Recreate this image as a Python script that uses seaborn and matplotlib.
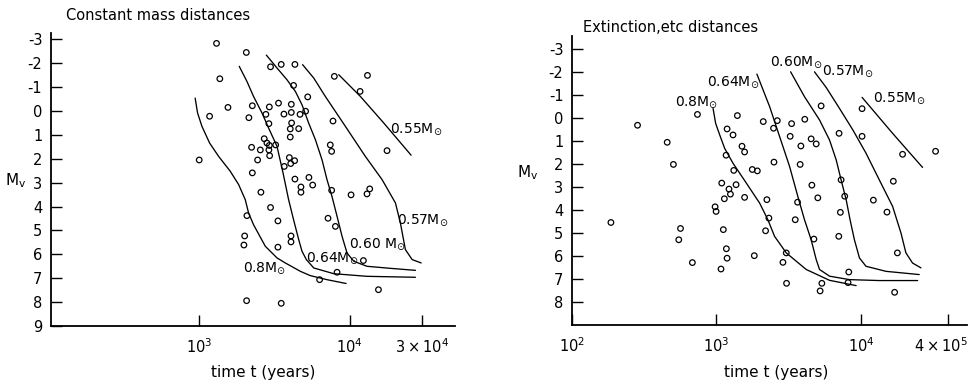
import numpy as np
import pandas as pd
import matplotlib
matplotlib.use("Agg")
import matplotlib.pyplot as plt
from matplotlib.ticker import NullLocator
from matplotlib.transforms import ScaledTranslation
import seaborn as sns

# ---------------- data (log10 t in years, absolute magnitude M_v) ----------------
left_log_t = [3.115, 3.313, 3.137, 3.474, 3.545, 3.636, 3.627, 3.191, 3.069, 3.000,
              3.353, 3.330, 3.466, 3.443, 3.527, 3.463, 3.612, 3.612, 3.563, 3.721,
              3.670, 3.707, 3.614, 3.605, 3.661, 3.605, 3.432, 3.450, 3.466, 3.508,
              3.348, 3.406, 3.463, 3.468, 3.388, 3.599, 3.608, 3.565, 3.634, 3.353,
              3.636, 3.729, 3.754, 3.676, 3.676, 3.410, 3.474, 3.523, 3.317, 3.302,
              3.297, 3.610, 3.610, 3.523, 3.315, 3.545, 3.800, 3.916, 4.091, 4.191,
              3.898, 4.118, 4.069, 3.889, 3.871, 3.880, 4.248, 3.880, 4.009, 4.115,
              4.133, 3.856, 3.905]
left_mv = [-2.83, -2.45, -1.35, -1.85, -1.95, -1.95, -1.07, -0.15, 0.22, 2.05,
           -0.22, 0.28, -0.17, 0.14, -0.33, 0.53, -0.28, 0.06, 0.13, -0.59,
           0.14, 0.01, 0.50, 0.75, 0.74, 1.09, 1.16, 1.34, 1.44, 1.42,
           1.52, 1.63, 1.63, 1.87, 2.05, 1.95, 2.20, 2.32, 2.08, 2.59,
           2.85, 2.78, 3.10, 3.18, 3.40, 3.40, 4.04, 4.60, 4.38, 5.23,
           5.61, 5.23, 5.48, 5.70, 7.94, 8.05, 7.06, 6.75, 6.26, 7.48,
           -1.45, -1.49, -0.82, 0.42, 1.42, 1.69, 1.66, 3.32, 3.51, 3.47,
           3.26, 4.49, 4.83]

right_log_t = [2.271, 2.455, 2.660, 2.703, 2.752, 2.740, 2.834, 2.869, 2.991, 2.998,
               3.032, 3.037, 3.048, 3.055, 3.067, 3.069, 3.074, 3.074, 3.087, 3.097,
               3.115, 3.120, 3.136, 3.145, 3.177, 3.195, 3.195, 3.248, 3.283, 3.262,
               3.324, 3.349, 3.340, 3.363, 3.395, 3.421, 3.398, 3.460, 3.483, 3.485,
               3.520, 3.510, 3.584, 3.579, 3.611, 3.561, 3.545, 3.655, 3.690, 3.660,
               3.701, 3.674, 3.724, 3.729, 3.717, 3.848, 3.862, 3.887, 3.857, 3.846,
               3.915, 3.910, 4.007, 4.007, 4.085, 4.179, 4.223, 4.251, 4.232, 4.287,
               4.515]
right_mv = [4.55, 0.33, 1.07, 2.03, 4.81, 5.30, 6.29, -0.14, 3.87, 4.07,
            6.57, 2.84, 4.86, 3.52, 1.63, 5.69, 6.10, 0.49, 3.10, 3.32,
            0.75, 2.29, 2.91, -0.09, 1.24, 1.49, 3.46, 2.25, 2.31, 5.99,
            0.17, 3.56, 4.91, 4.36, 0.46, 0.13, 1.93, 6.28, 5.87, 7.19,
            0.26, 0.81, 1.23, 2.03, 0.07, 3.67, 4.43, 0.92, 1.14, 2.93,
            3.48, 5.27, -0.51, 7.19, 7.52, 0.68, 2.70, 3.41, 4.11, 5.15,
            6.70, 7.16, -0.39, 0.81, 3.58, 4.10, 2.76, 5.87, 7.58, 1.59,
            1.46]

# cooling tracks, left panel
l080_t = [2.973, 2.989, 3.018, 3.069, 3.129, 3.206, 3.262, 3.306, 3.328, 3.361, 3.439, 3.517, 3.572, 3.672, 3.738, 3.849, 3.976]
l080_m = [-0.54, 0.08, 0.64, 1.34, 1.90, 2.52, 3.08, 3.71, 4.27, 4.76, 5.66, 6.15, 6.36, 6.71, 6.89, 7.06, 7.22]
l064_t = [3.266, 3.317, 3.361, 3.417, 3.461, 3.517, 3.557, 3.594, 3.627, 3.661, 3.683, 3.712, 3.761, 3.894, 4.115, 4.437]
l064_m = [-1.87, -1.24, -0.61, 0.08, 0.71, 1.48, 2.59, 3.71, 4.55, 5.38, 5.87, 6.22, 6.57, 6.81, 6.92, 6.96]
l060_t = [3.446, 3.517, 3.583, 3.639, 3.683, 3.727, 3.772, 3.816, 3.849, 3.882, 3.916, 3.949, 3.982, 4.027, 4.115, 4.259, 4.437]
l060_m = [-2.34, -1.80, -1.31, -0.82, -0.26, 0.50, 1.20, 2.04, 2.87, 3.57, 4.41, 5.24, 5.94, 6.29, 6.50, 6.58, 6.67]
l057_t = [3.687, 3.761, 3.838, 3.971, 4.104, 4.215, 4.304, 4.337, 4.370, 4.415, 4.475]
l057_m = [-1.94, -1.38, -0.61, 0.64, 1.90, 2.87, 3.85, 4.69, 5.80, 6.22, 6.36]
l055_t = [3.927, 4.071, 4.226, 4.408]
l055_m = [-1.52, -0.61, 0.50, 1.85]

# cooling tracks, right panel
r080_t = [2.977, 2.995, 3.023, 3.057, 3.115, 3.207, 3.299, 3.356, 3.402, 3.483, 3.621, 3.782, 3.966]
r080_m = [-0.40, 0.25, 0.75, 1.33, 1.98, 2.84, 3.71, 4.43, 5.15, 5.87, 6.59, 7.06, 7.29]
r064_t = [3.280, 3.368, 3.437, 3.506, 3.563, 3.609, 3.655, 3.690, 3.713, 3.782, 3.920, 4.126, 4.391]
r064_m = [-1.89, -0.48, 0.82, 2.12, 3.42, 4.43, 5.30, 6.16, 6.59, 6.88, 7.03, 7.07, 7.07]
r060_t = [3.513, 3.609, 3.713, 3.782, 3.828, 3.862, 3.897, 3.924, 3.954, 3.989, 4.034, 4.172, 4.402]
r060_m = [-1.99, -0.91, 0.10, 0.97, 1.83, 2.70, 3.56, 4.43, 5.30, 6.09, 6.45, 6.67, 6.81]
r057_t = [3.678, 3.759, 3.851, 3.943, 4.034, 4.126, 4.218, 4.276, 4.310, 4.356, 4.414]
r057_m = [-1.99, -1.31, -0.40, 0.53, 1.54, 2.70, 3.85, 5.01, 5.87, 6.31, 6.52]
r055_t = [4.007, 4.218, 4.425]
r055_m = [-0.88, 0.68, 2.16]

left_label_text = ["0.8M$_{\\odot}$", "0.64M$_{\\odot}$", "0.60 M$_{\\odot}$", "0.57M$_{\\odot}$", "0.55M$_{\\odot}$"]
left_label_t = [3.290, 3.712, 3.993, 4.315, 4.270]
left_label_m = [6.71, 6.29, 5.73, 4.71, 0.92]
right_label_text = ["0.8M$_{\\odot}$", "0.64M$_{\\odot}$", "0.60M$_{\\odot}$", "0.57M$_{\\odot}$", "0.55M$_{\\odot}$"]
right_label_t = [2.713, 2.938, 3.372, 3.731, 4.080]
right_label_m = [-0.51, -1.41, -2.27, -1.85, -0.69]

left_xticks = [1e3, 1e4, 3e4]
left_xticklabels = ["$10^3$", "$10^4$", "$3\\times10^4$"]
right_xticks = [1e2, 1e3, 1e4, 4e4]
right_xticklabels = ["$10^2$", "$10^3$", "$10^4$", "$4\\times10^5$"]
left_yticks = list(range(-3, 10))
right_yticks = list(range(-3, 9))

# ---------------- figure ----------------
sns.set_style("ticks")
plt.rcParams["font.family"] = ["DejaVu Sans"]
plt.rcParams["axes.unicode_minus"] = False
plt.rcParams["mathtext.fontset"] = "dejavusans"
for key in ["text.color", "axes.labelcolor", "xtick.color", "ytick.color", "axes.edgecolor"]:
    plt.rcParams[key] = "black"

fig = plt.figure(figsize=(9.69, 3.84), dpi=100)
axL = fig.add_axes([0.0523, 0.151, 0.4173, 0.764])
axR = fig.add_axes([0.590, 0.1536, 0.4076, 0.7524])

def draw(ax, lt, mv, tracks, labels, lab_t, lab_m):
    df = pd.DataFrame({"t": 10 ** np.array(lt), "M": mv})
    sns.scatterplot(data=df, x="t", y="M", ax=ax, marker="o", s=16,
                    color="black", facecolors="none", edgecolors="black",
                    linewidth=0.9, zorder=3)
    for tt, mm in tracks:
        d = pd.DataFrame({"t": 10 ** np.array(tt), "M": mm})
        sns.lineplot(data=d, x="t", y="M", ax=ax, sort=False, estimator=None,
                     color="black", lw=0.95)
    for txt, tt, mm in zip(labels, lab_t, lab_m):
        ax.text(10 ** tt, mm, txt, fontsize=10, ha="left", va="baseline", color="black")

draw(axL, left_log_t, left_mv,
     [(l080_t, l080_m), (l064_t, l064_m), (l060_t, l060_m), (l057_t, l057_m), (l055_t, l055_m)],
     left_label_text, left_label_t, left_label_m)
draw(axR, right_log_t, right_mv,
     [(r080_t, r080_m), (r064_t, r064_m), (r060_t, r060_m), (r057_t, r057_m), (r055_t, r055_m)],
     right_label_text, right_label_t, right_label_m)

for ax, xl, xt, xtl, yt, ytop in [
        (axL, (10 ** 2.013, 10 ** 4.70), left_xticks, left_xticklabels, left_yticks, -3.28),
        (axR, (1e2, 10 ** 4.73), right_xticks, right_xticklabels, right_yticks, -3.54)]:
    ax.set_xscale("log")
    ax.set_xlim(*xl)
    ax.set_ylim(9, ytop)
    ax.set_xticks(xt)
    ax.set_xticklabels(xtl)
    ax.xaxis.set_minor_locator(NullLocator())
    ax.set_yticks(yt)
    ax.set_yticklabels([str(v) for v in yt])
    ax.tick_params(axis="both", direction="in", length=8, width=1.0,
                   labelsize=10.5, pad=6, colors="black")
    ax.tick_params(axis="x", pad=8)
    ax.set_xlabel("")
    ax.set_ylabel("")
    for s in ["top", "right"]:
        ax.spines[s].set_visible(False)
    for s in ["left", "bottom"]:
        ax.spines[s].set_linewidth(1.3)
        ax.spines[s].set_color("black")

# keep the right-most tick label inside the figure edge
last = axR.get_xticklabels()[-1]
last.set_ha("right")
last.set_transform(last.get_transform() + ScaledTranslation(0.19, 0, fig.dpi_scale_trans))

fig.text(66 / 969, 1 - 16 / 384, "Constant mass distances", fontsize=10.5, ha="left", va="center")
fig.text(583 / 969, 1 - 27 / 384, "Extinction,etc distances", fontsize=10.5, ha="left", va="center")
fig.text(16 / 969, 1 - 181 / 384, "M$_{\\mathrm{v}}$", fontsize=11, ha="center", va="center")
fig.text(528 / 969, 1 - 173 / 384, "M$_{\\mathrm{v}}$", fontsize=11, ha="center", va="center")
fig.text(263 / 969, 1 - 372 / 384, "time t (years)", fontsize=11, ha="center", va="center")
fig.text(776 / 969, 1 - 372 / 384, "time t (years)", fontsize=11, ha="center", va="center")

fig.savefig("out.png", dpi=100)
